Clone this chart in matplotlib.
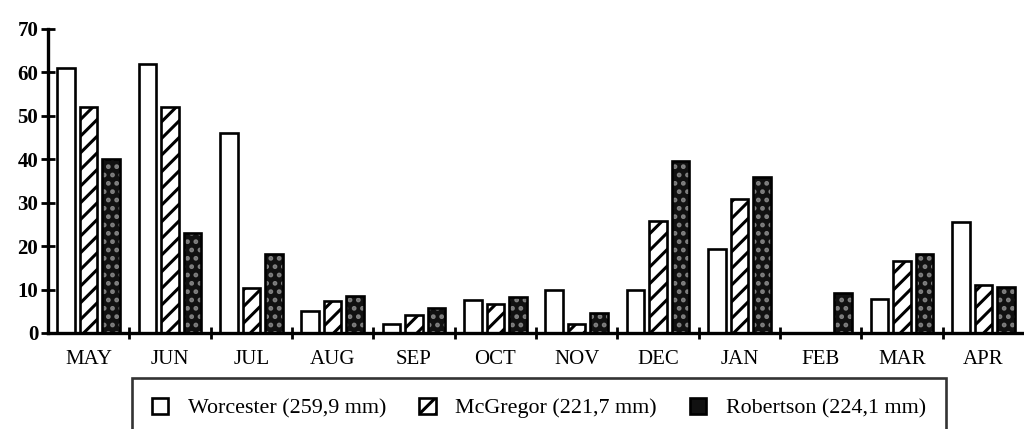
import matplotlib.pyplot as plt
import numpy as np
from matplotlib.patches import Patch

months = ['MAY', 'JUN', 'JUL', 'AUG', 'SEP', 'OCT', 'NOV', 'DEC', 'JAN', 'FEB', 'MAR', 'APR']
worcester = [61, 62, 46, 5, 2, 7.6, 9.8, 10, 19.3, 0, 7.8, 25.5]
mcgregor = [52, 52, 10.3, 7.3, 4.2, 6.7, 2.1, 25.7, 30.8, 0, 16.5, 11]
robertson = [40, 23, 18.2, 8.5, 5.8, 8.4, 4.5, 39.6, 36, 9.1, 18.3, 10.6]
labels = ['Worcester (259,9 mm)', 'McGregor (221,7 mm)', 'Robertson (224,1 mm)']

plt.rcParams['font.family'] = ['Liberation Serif', 'DejaVu Serif']
plt.rcParams['hatch.linewidth'] = 2.2

fig = plt.figure(figsize=(10.24, 4.29), dpi=100)
ax = fig.add_axes([48 / 1024, 96 / 429, 1 - 48 / 1024, 304 / 429])

x = np.arange(len(months))
step = 0.277
w = 0.215

ax.bar(x - step, worcester, w, facecolor='white', edgecolor='black', linewidth=1.9)
ax.bar(x, mcgregor, w, facecolor='white', edgecolor='black', linewidth=1.9, hatch='//')
# stippled dark bars: white dots on black, outline drawn on top
ax.bar(x + step, robertson, w, facecolor='#111111', edgecolor='#808080', linewidth=0, hatch='..')
ax.bar(x + step, robertson, w, fill=False, edgecolor='black', linewidth=1.9)

ax.set_xlim(-0.5, 11.5)
ax.set_ylim(0, 70)
ax.spines['top'].set_visible(False)
ax.spines['right'].set_visible(False)
ax.spines['left'].set_linewidth(2.4)
ax.spines['bottom'].set_linewidth(2.4)

ax.set_yticks(range(0, 71, 10))
ax.set_yticklabels([str(v) for v in range(0, 71, 10)], fontweight='bold')
ax.tick_params(axis='y', direction='inout', length=10, width=2, labelsize=15, pad=2)
ax.set_xticks(x)
ax.set_xticklabels(months)
ax.tick_params(axis='x', which='major', length=0, labelsize=15, pad=12)
ax.set_xticks(x[:-1] + 0.5, minor=True)
ax.tick_params(axis='x', which='minor', direction='inout', length=9, width=2)

handles = [Patch(facecolor='white', edgecolor='black', linewidth=1.9),
           Patch(facecolor='white', edgecolor='black', linewidth=1.9, hatch='//'),
           Patch(facecolor='#111111', edgecolor='black', linewidth=1.9)]
leg = fig.legend(handles, labels, loc='center', bbox_to_anchor=(539 / 1024, 1 - 408 / 429),
                 ncol=3, frameon=True, fancybox=False, fontsize=15.8, handlelength=0.75,
                 handleheight=0.75, handletextpad=0.9, columnspacing=1.5, borderpad=0.9,
                 borderaxespad=0)
leg.get_frame().set_edgecolor('black')
leg.get_frame().set_linewidth(1.9)

fig.savefig('out.png', dpi=100)
